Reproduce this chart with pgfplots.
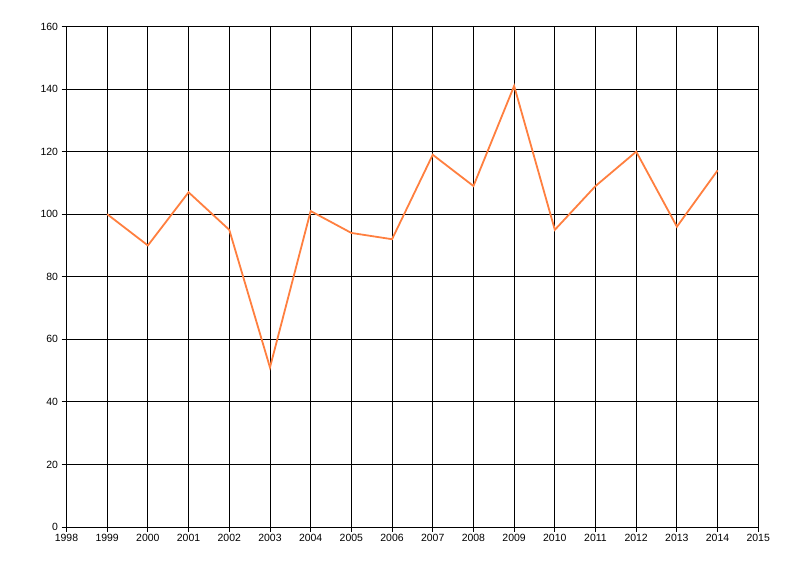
\documentclass[border=0pt]{standalone}
\usepackage{fontspec}
\setmainfont{Liberation Sans}
\usepackage{pgfplots}
\pgfplotsset{compat=1.18}
\definecolor{lineor}{RGB}{255,127,63}
\begin{document}
\begin{tikzpicture}
\begin{axis}[
  name=ax,
  scale only axis,
  width=691.8bp, height=500.5bp,
  xmin=1998, xmax=2015, ymin=0, ymax=160,
  xtick={1998,1999,...,2015},
  ytick={0,20,...,160},
  grid=major,
  major grid style={black, line width=0.8bp},
  axis line style={black, line width=0.8bp},
  tick style={black, line width=0.8bp},
  tick align=outside,
  major tick length=5bp,
  xtick pos=left, ytick pos=left,
  /pgf/number format/1000 sep={},
  /pgf/number format/assume math mode=true,
  ticklabel style={font=\fontsize{10.5}{12}\selectfont, text=black},
  xticklabel style={yshift=1.5bp},
  yticklabel style={xshift=0bp},
]
\addplot[color=lineor, line width=1.8bp, mark=none] coordinates {
(1999,100) (2000,90) (2001,107) (2002,95) (2003,51) (2004,101)
(2005,94) (2006,92) (2007,119) (2008,109) (2009,141) (2010,95)
(2011,109) (2012,120) (2013,96) (2014,114)
};
\end{axis}
\path[use as bounding box] ([shift={(-66.5bp,-49bp)}]ax.south west) rectangle ([shift={(41.7bp,26.5bp)}]ax.north east);
\end{tikzpicture}
\end{document}
